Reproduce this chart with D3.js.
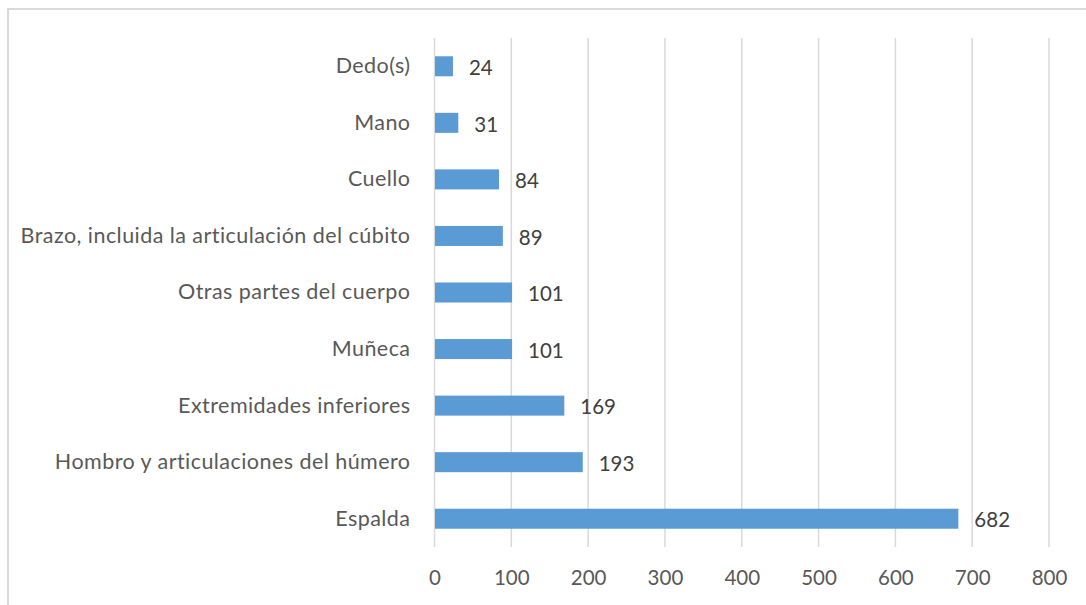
<!DOCTYPE html>
<html>
<head>
<meta charset="utf-8">
<script src="https://cdn.jsdelivr.net/npm/d3@7"></script>
<style>
  body { margin: 0; background: #fff; }
  svg { display: block; font-family: Lato, "Open Sans", sans-serif; }
</style>
</head>
<body>
<svg id="chart"></svg>
<script>
// categories, top to bottom
const categories = [
  'Dedo(s)', 'Mano', 'Cuello', 'Brazo, incluida la articulación del cúbito',
  'Otras partes del cuerpo', 'Muñeca', 'Extremidades inferiores',
  'Hombro y articulaciones del húmero', 'Espalda'
];
const values = [24, 31, 84, 89, 101, 101, 169, 193, 682];
const xTicks = [0, 100, 200, 300, 400, 500, 600, 700, 800];

const width = 1086, height = 605;
const svg = d3.select('#chart').attr('width', width).attr('height', height);

// outer frame (cut off at right/bottom like the source)
svg.append('rect')
    .attr('x', 8).attr('y', 9)
    .attr('width', 1200).attr('height', 1000)
    .attr('fill', 'none')
    .attr('stroke', '#d9d9d9')
    .attr('stroke-width', 2);

const x = d3.scaleLinear().domain([0, 800]).range([434.5, 1049]);
const y = d3.scaleBand().domain(categories).range([38, 547]).paddingInner(0.646).paddingOuter(0.323);

// gridlines
svg.append('g')
    .selectAll('line')
    .data(xTicks)
    .enter().append('line')
        .attr('x1', d => x(d)).attr('x2', d => x(d))
        .attr('y1', 38).attr('y2', 547)
        .attr('stroke', '#d9d9d9')
        .attr('stroke-width', 1.5);

// bars
svg.append('g')
    .selectAll('rect')
    .data(values)
    .enter().append('rect')
        .attr('x', x(0) + 0.5)
        .attr('y', (d, i) => y(categories[i]))
        .attr('width', d => x(d) - x(0) - 0.5)
        .attr('height', y.bandwidth())
        .attr('fill', '#5b9bd5');

// value labels
svg.append('g')
    .selectAll('text')
    .data(values)
    .enter().append('text')
        .attr('x', d => x(d) + 16)
        .attr('y', (d, i) => y(categories[i]) + y.bandwidth() / 2 + 1.5)
        .attr('dy', '0.35em')
        .attr('font-size', 20.5)
        .attr('fill', '#404040')
        .text(d => d);

// category axis
const yAxis = svg.append('g')
    .attr('transform', 'translate(' + x(0) + ',0)')
    .call(d3.axisLeft(y).tickSize(0).tickPadding(24));
yAxis.select('.domain').remove();
yAxis.selectAll('text')
    .attr('font-size', 21.5)
    .attr('letter-spacing', 0.45)
    .attr('font-family', 'Lato, "Open Sans", sans-serif')
    .attr('fill', '#595959');

// value axis
const xAxis = svg.append('g')
    .attr('transform', 'translate(0,547)')
    .call(d3.axisBottom(x).tickValues(xTicks).tickSize(0).tickPadding(23));
xAxis.select('.domain').remove();
xAxis.selectAll('text')
    .attr('font-size', 20.5)
    .attr('font-family', 'Lato, "Open Sans", sans-serif')
    .attr('fill', '#595959');
</script>
</body>
</html>
